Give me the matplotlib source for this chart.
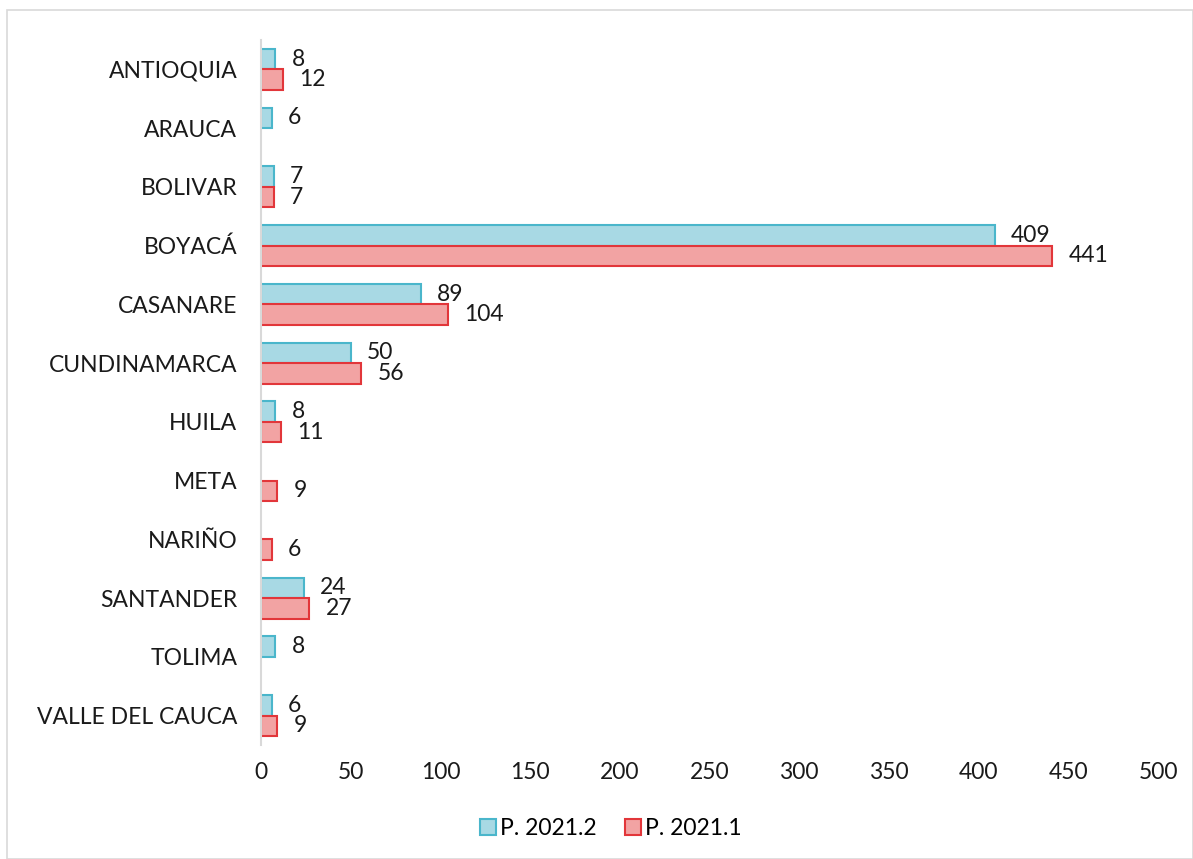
import numpy as np
import matplotlib.pyplot as plt
from matplotlib.patches import Patch, Rectangle

plt.rcParams['font.family'] = ['Lato', 'DejaVu Sans']

# datos
departamentos = ['ANTIOQUIA', 'ARAUCA', 'BOLIVAR', 'BOYACÁ', 'CASANARE', 'CUNDINAMARCA',
                 'HUILA', 'META', 'NARIÑO', 'SANTANDER', 'TOLIMA', 'VALLE DEL CAUCA']
p2021_2 = [8, 6, 7, 409, 89, 50, 8, None, None, 24, 8, 6]
p2021_1 = [12, None, 7, 441, 104, 56, 11, 9, 6, 27, None, 9]
series_names = ['P. 2021.2', 'P. 2021.1']

azul_fc, azul_ec = '#A8D9E4', '#4AB6CB'
rojo_fc, rojo_ec = '#F2A3A3', '#E2363A'
fs = 16.5

fig = plt.figure(figsize=(11.93, 8.59), dpi=100)
ax = fig.add_axes([0.2188, 0.1327, 0.7519, 0.8207])

# borde del grafico
fig.patches.append(Rectangle((7/1193, 0), 1 - 7/1193, 1 - 10/859, transform=fig.transFigure,
                             fill=False, edgecolor='#D9D9D9', linewidth=1.2))

y = np.arange(len(departamentos))
h = 0.35

def barras(vals, offset, fc, ec):
    for i, v in enumerate(vals):
        if v is None:
            continue
        ax.barh(y[i] + offset, v, height=h, color=fc, edgecolor=ec, linewidth=1.5)
        ax.text(v + 9, y[i] + offset, str(v), va='center', ha='left', fontsize=fs, color='#1a1a1a')

barras(p2021_2, -h / 2, azul_fc, azul_ec)
barras(p2021_1, h / 2, rojo_fc, rojo_ec)

ax.set_xlim(0, 500)
ax.set_xticks(np.arange(0, 501, 50))
ax.set_ylim(len(departamentos) - 0.5, -0.5)
ax.set_yticks(y)
ax.set_yticklabels(departamentos)
ax.tick_params(axis='both', length=0, labelsize=fs, colors='#1a1a1a')
ax.tick_params(axis='x', pad=12)
ax.tick_params(axis='y', pad=17)
for s in ['top', 'right', 'bottom']:
    ax.spines[s].set_visible(False)
ax.spines['left'].set_color('#D9D9D9')
ax.spines['left'].set_linewidth(1.5)

handles = [Patch(facecolor=azul_fc, edgecolor=azul_ec, linewidth=1.5),
           Patch(facecolor=rojo_fc, edgecolor=rojo_ec, linewidth=1.5)]
fig.legend(handles, series_names, loc='center', bbox_to_anchor=(0.512, 0.036), ncol=2,
           frameon=False, fontsize=fs, handlelength=0.7, handleheight=0.7,
           handletextpad=0.2, columnspacing=1.2)

fig.savefig('out.png', dpi=100)
